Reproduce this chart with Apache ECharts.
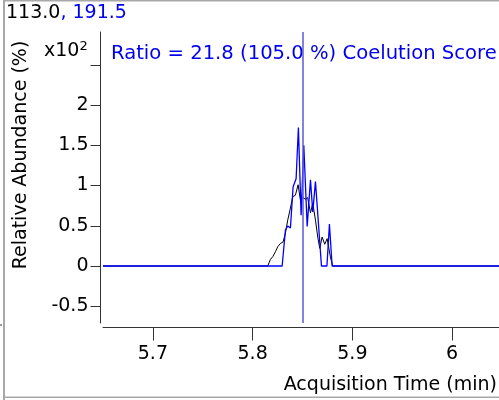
<!DOCTYPE html>
<html><head><meta charset="utf-8">
<script src="https://cdn.jsdelivr.net/npm/echarts@6/dist/echarts.min.js"></script>
<style>html,body{margin:0;padding:0;background:#fff}#c{width:499px;height:400px}</style>
</head><body><div id="c"></div>
<script>
// Acquisition time (min) and relative abundance (x10^2 %)
const blackTimes = [5.65, 5.8151, 5.8179, 5.8202, 5.8229, 5.8252, 5.8279, 5.8306, 5.8329, 5.8352, 5.8379, 5.8402, 5.8429, 5.8456, 5.8479, 5.8506, 5.8529, 5.8552, 5.858, 5.8603, 5.863, 5.8653, 5.8673, 5.8697, 5.8723, 5.8747, 5.878, 5.8803, 6.047];
const blackValues = [0, 0, 0.083, 0.116, 0.178, 0.24, 0.28, 0.30, 0.41, 0.57, 0.72, 0.86, 0.88, 1.01, 0.82, 0.85, 0.83, 0.85, 0.66, 0.78, 0.57, 0.36, 0.22, 0.36, 0.27, 0.34, 0.11, 0, 0];
const blueTimes = [5.65, 5.8296, 5.8329, 5.8352, 5.8379, 5.8406, 5.8436, 5.8459, 5.8486, 5.8513, 5.8547, 5.858, 5.8603, 5.863, 5.869, 5.8745, 5.877, 5.8797, 6.047];
const blueValues = [0, 0, 0.447, 0.497, 0.472, 0.985, 1.083, 1.72, 0.63, 1.50, 0.49, 1.07, 0.67, 1.05, 0, 0, 0.52, 0, 0];
const xTicks = [5.7, 5.8, 5.9, 6.0];
const yTicks = [-0.5, 0, 0.5, 1, 1.5, 2, 2.5];
const yLabels = [-0.5, 0, 0.5, 1, 1.5, 2];
const markerTime = 5.85;
const headerBlack = '113.0';
const headerBlue = ', 191.5';
const ratioText = 'Ratio = 21.8 (105.0 %) Coelution Score';

const FONT = 'DejaVu Sans';
const pair = (t, v) => t.map((x, i) => [x, v[i]]);
const chart = echarts.init(document.getElementById('c'), null, {renderer: 'canvas'});
chart.setOption({
  animation: false,
  grid: {left: 103, right: 0, top: 32, bottom: 77, containLabel: false},
  xAxis: {
    type: 'value', min: 5.65, max: 6.047, offset: 4.5,
    axisLine: {show: true, onZero: false, lineStyle: {color: '#333', width: 1}},
    axisTick: {show: true, inside: false, length: 13, lineStyle: {color: '#333'}, customValues: xTicks},
    axisLabel: {show: true, margin: 17, fontFamily: FONT, fontSize: 19, color: '#000',
      customValues: xTicks, formatter: v => String(+v.toFixed(2))},
    splitLine: {show: false}
  },
  yAxis: {
    type: 'value', min: -0.708, max: 2.907, offset: 2.5,
    axisLine: {show: true, onZero: false, lineStyle: {color: '#333', width: 1}},
    axisTick: {show: true, inside: false, length: 10, lineStyle: {color: '#333'}, customValues: yTicks},
    axisLabel: {show: true, margin: 12, fontFamily: FONT, fontSize: 19, color: '#000',
      customValues: yLabels, formatter: v => String(+v.toFixed(2))},
    splitLine: {show: false}
  },
  series: [
    {type: 'line', data: pair(blackTimes, blackValues), showSymbol: false,
      lineStyle: {color: '#000', width: 1}, z: 2},
    {type: 'line', data: pair(blueTimes, blueValues), showSymbol: false,
      lineStyle: {color: '#0000ff', width: 1.3}, z: 3,
      markLine: {symbol: 'none', silent: true, label: {show: false},
        lineStyle: {color: '#5a5ad2', width: 1.5, type: 'solid'},
        data: [{xAxis: markerTime}]}}
  ],
  graphic: [
    {type: 'rect', shape: {x: 3, y: 0, width: 2, height: 400}, style: {fill: '#a8a8a8'}},
    {type: 'rect', shape: {x: 3, y: 0, width: 496, height: 1.5}, style: {fill: '#a8a8a8'}},
    {type: 'rect', shape: {x: 3, y: 396.5, width: 496, height: 1.5}, style: {fill: '#a8a8a8'}},
    {type: 'rect', shape: {x: 0, y: 324.5, width: 2, height: 1}, style: {fill: '#333'}},
    {type: 'text', left: 6, top: 4, style: {
      text: '{k|' + headerBlack + '}{b|' + headerBlue + '}',
      rich: {k: {fontFamily: FONT, fontSize: 19, fill: '#000'}, b: {fontFamily: FONT, fontSize: 19, fill: '#0000ee'}}}},
    {type: 'text', left: 111, top: 44, style: {text: ratioText, fontFamily: FONT, fontSize: 19.6, fill: '#0000ee'}},
    {type: 'text', left: 44, top: 40, style: {
      text: '{a|x10}{s|2}',
      rich: {a: {fontFamily: FONT, fontSize: 19, fill: '#000', verticalAlign: 'bottom'},
             s: {fontFamily: FONT, fontSize: 13, fill: '#000', verticalAlign: 'top', padding: [0, 0, 8, 0]}}}},
    {type: 'text', x: 21, y: 155, rotation: Math.PI / 2, style: {
      text: 'Relative Abundance (%)', fontFamily: FONT, fontSize: 19, fill: '#000',
      align: 'center', verticalAlign: 'middle'}},
    {type: 'text', x: 497, y: 385, style: {
      text: 'Acquisition Time (min)', fontFamily: FONT, fontSize: 19, fill: '#000',
      align: 'right', verticalAlign: 'middle'}}
  ]
});
</script></body></html>
